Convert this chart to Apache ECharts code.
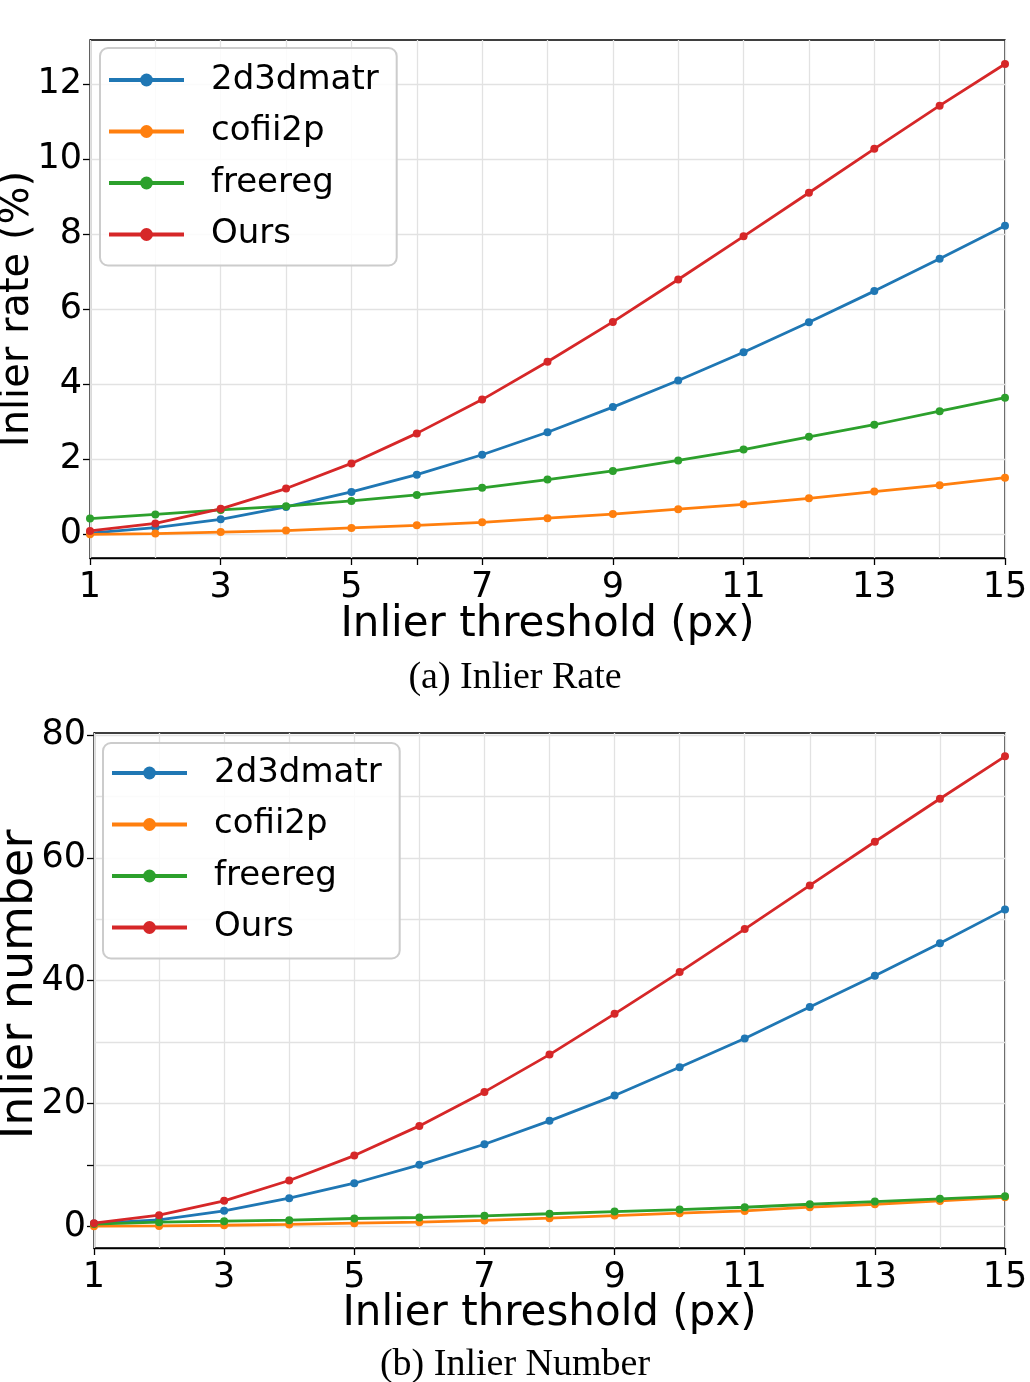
<!DOCTYPE html>
<html>
<head>
<meta charset="utf-8">
<script src="https://cdn.jsdelivr.net/npm/echarts@6/dist/echarts.min.js"></script>
<style>
html,body{margin:0;padding:0;background:#fff;}
#chart{width:1030px;height:1382px;}
</style>
</head>
<body>
<div id="chart"></div>
<script>
// ---- data ----
var thresholds = [1, 2, 3, 4, 5, 6, 7, 8, 9, 10, 11, 12, 13, 14, 15];
var seriesNames = ['2d3dmatr', 'cofii2p', 'freereg', 'Ours'];

// (a) Inlier rate (%)
var rate2d3dmatr = [0.03, 0.18, 0.40, 0.73, 1.13, 1.59, 2.12, 2.72, 3.39, 4.10, 4.85, 5.65, 6.48, 7.34, 8.22];
var rateCofii2p  = [0.00, 0.02, 0.06, 0.10, 0.17, 0.24, 0.32, 0.43, 0.54, 0.67, 0.80, 0.96, 1.14, 1.31, 1.51];
var rateFreereg  = [0.42, 0.53, 0.65, 0.75, 0.89, 1.05, 1.24, 1.46, 1.69, 1.97, 2.26, 2.60, 2.92, 3.28, 3.64];
var rateOurs     = [0.09, 0.29, 0.68, 1.22, 1.89, 2.69, 3.59, 4.60, 5.66, 6.79, 7.94, 9.10, 10.27, 11.42, 12.53];

// (b) Inlier number
var num2d3dmatr = [0.50, 1.09, 2.55, 4.60, 7.04, 10.03, 13.38, 17.19, 21.30, 25.90, 30.60, 35.70, 40.80, 46.10, 51.60];
var numCofii2p  = [0.05, 0.10, 0.20, 0.33, 0.54, 0.70, 0.98, 1.35, 1.77, 2.16, 2.54, 3.14, 3.62, 4.16, 4.76];
var numFreereg  = [0.40, 0.70, 0.86, 1.03, 1.30, 1.46, 1.74, 2.07, 2.43, 2.75, 3.13, 3.62, 4.05, 4.50, 4.93];
var numOurs     = [0.54, 1.84, 4.18, 7.48, 11.54, 16.37, 21.90, 27.97, 34.60, 41.40, 48.40, 55.50, 62.60, 69.60, 76.50];

// ticks / labels
var rateXTicks  = [1, 3, 5, 6, 7, 9, 11, 13, 15];
var rateXLabels = [1, 3, 5, 7, 9, 11, 13, 15];
var rateYTicks  = [0, 2, 4, 6, 8, 10, 12];
var rateYGrid   = [0, 2, 4, 6, 8, 10, 12];
var numXTicks   = [1, 3, 5, 7, 9, 11, 13, 15];
var numXLabels  = [1, 3, 5, 7, 9, 11, 13, 15];
var numYTicks   = [0, 10, 20, 40, 60, 80];
var numYLabels  = [0, 20, 40, 60, 80];
var numYGrid    = [0, 10, 20, 30, 40, 50, 60, 70, 80];
var xGrid       = thresholds;

var colors = ['#1f77b4', '#ff7f0e', '#2ca02c', '#d62728'];

// ---- build ----
function pairs(ys) { return thresholds.map(function (x, i) { return [x, ys[i]]; }); }

var FONT = 'DejaVu Sans';
var TICK_FS = 35;

function xAxisVisible(gridIndex, ticks, labels, name, nameGap) {
  return {
    type: 'value', gridIndex: gridIndex, min: 1, max: 15,
    name: name, nameLocation: 'middle', nameGap: nameGap, nameMoveOverlap: false,
    nameTextStyle: { fontFamily: FONT, fontSize: 42, color: '#000' },
    axisLine: { show: true, onZero: false, lineStyle: { color: '#000', width: 1.3 } },
    axisTick: { show: true, inside: false, length: 7, lineStyle: { color: '#000', width: 1.3 }, customValues: ticks },
    axisLabel: { show: true, margin: 12, fontFamily: FONT, fontSize: TICK_FS, color: '#000', customValues: labels },
    splitLine: { show: false }
  };
}
function yAxisVisible(gridIndex, min, max, ticks, labels, name, nameGap, nameFs, namePad) {
  return {
    type: 'value', gridIndex: gridIndex, min: min, max: max,
    name: name, nameLocation: 'middle', nameGap: nameGap, nameRotate: 90, nameMoveOverlap: false,
    nameTextStyle: { fontFamily: FONT, fontSize: nameFs, color: '#000', padding: namePad },
    axisLine: { show: true, onZero: false, lineStyle: { color: '#000', width: 1.3 } },
    axisTick: { show: true, inside: false, length: 7, lineStyle: { color: '#000', width: 1.3 }, customValues: ticks },
    axisLabel: { show: true, margin: 8, fontFamily: FONT, fontSize: TICK_FS, color: '#000', customValues: labels },
    splitLine: { show: false }
  };
}

function gridSeries(xIdx, yIdx, yVals) {
  var md = [];
  xGrid.forEach(function (v) { md.push({ xAxis: v }); });
  yVals.forEach(function (v) { md.push({ yAxis: v }); });
  return {
    type: 'line', xAxisIndex: xIdx, yAxisIndex: yIdx, z: 1,
    data: [[1, 0]], showSymbol: false, symbol: 'none',
    lineStyle: { opacity: 0 }, silent: true, animation: false, legendHoverLink: false,
    markLine: {
      z: 1, zlevel: 0,
      silent: true, symbol: ['none', 'none'], animation: false,
      label: { show: false },
      lineStyle: { color: '#e2e2e2', width: 1.3, type: 'solid' },
      emphasis: { disabled: true },
      data: md
    }
  };
}

function dataSeries(name, idx, xIdx, yIdx, ys) {
  return {
    name: name, type: 'line', xAxisIndex: xIdx, yAxisIndex: yIdx, z: 3,
    data: pairs(ys), symbol: 'circle', symbolSize: 8, showSymbol: true,
    lineStyle: { color: colors[idx], width: 2.8 },
    itemStyle: { color: colors[idx] },
    animation: false, silent: true
  };
}

function legend(left, top, padTop, padBottom) {
  return {
    data: seriesNames, orient: 'vertical', left: left, top: top, z: 10,
    itemWidth: 75, itemHeight: 16, itemGap: 11.5,
    padding: [padTop, 18, padBottom, 7],
    backgroundColor: 'rgba(255,255,255,0.85)',
    borderColor: '#cccccc', borderWidth: 2, borderRadius: 8,
    lineStyle: { width: 4 },
    textStyle: { fontFamily: FONT, fontSize: 34, color: '#000', lineHeight: 40, padding: [0, 0, 0, 22] },
    selectedMode: false
  };
}

var option = {
  backgroundColor: '#fff',
  animation: false,
  title: [
    { text: '(a) Inlier Rate', left: 'center', top: 654,
      textStyle: { fontFamily: 'Liberation Serif', fontWeight: 'normal', fontSize: 38, color: '#000' } },
    { text: '(b) Inlier Number', left: 'center', top: 1341,
      textStyle: { fontFamily: 'Liberation Serif', fontWeight: 'normal', fontSize: 38, color: '#000' } }
  ],
  grid: [
    { left: 90, right: 25, top: 40, height: 518, show: true, borderColor: '#000', borderWidth: 1.3, backgroundColor: 'transparent', containLabel: false, outerBoundsMode: 'none' },
    { left: 94, right: 25, top: 733, height: 515, show: true, borderColor: '#000', borderWidth: 1.3, backgroundColor: 'transparent', containLabel: false, outerBoundsMode: 'none' }
  ],
  legend: [legend(100, 48, 12, 11), legend(103, 743, 10, 11)],
  xAxis: [
    xAxisVisible(0, rateXTicks, rateXLabels, 'Inlier threshold (px)', 46),
    xAxisVisible(1, numXTicks, numXLabels, 'Inlier threshold (px)', 45)
  ],
  yAxis: [
    yAxisVisible(0, -0.63, 13.17, rateYTicks, rateYTicks, 'Inlier rate (%)', 52, 40, [0, 20, 0, 0]),
    yAxisVisible(1, -3.5, 80.3, numYTicks, numYLabels, 'Inlier number', 51, 46, [0, 0, 0, 12])
  ],
  series: [
    gridSeries(0, 0, rateYGrid),
    dataSeries(seriesNames[0], 0, 0, 0, rate2d3dmatr),
    dataSeries(seriesNames[1], 1, 0, 0, rateCofii2p),
    dataSeries(seriesNames[2], 2, 0, 0, rateFreereg),
    dataSeries(seriesNames[3], 3, 0, 0, rateOurs),
    gridSeries(1, 1, numYGrid),
    dataSeries(seriesNames[0], 0, 1, 1, num2d3dmatr),
    dataSeries(seriesNames[1], 1, 1, 1, numCofii2p),
    dataSeries(seriesNames[2], 2, 1, 1, numFreereg),
    dataSeries(seriesNames[3], 3, 1, 1, numOurs)
  ]
};

var chart = echarts.init(document.getElementById('chart'), null, { renderer: 'canvas', width: 1030, height: 1382 });
chart.setOption(option);
</script>
</body>
</html>
